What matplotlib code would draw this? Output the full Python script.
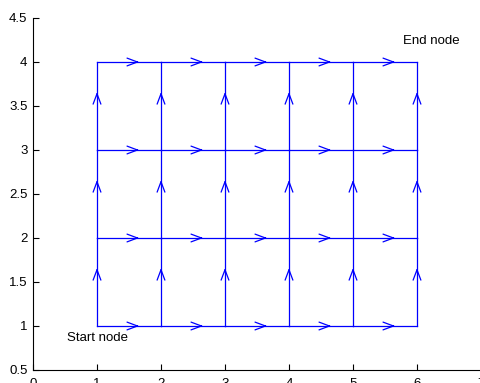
import matplotlib
matplotlib.use('Agg')
import matplotlib.pyplot as plt

# grid graph: nodes on integer positions, edges go right and up
node_x = [1, 2, 3, 4, 5, 6]
node_y = [1, 2, 3, 4]
x_ticks = [0, 1, 2, 3, 4, 5, 6, 7]
y_ticks = [0.5, 1, 1.5, 2, 2.5, 3, 3.5, 4, 4.5]
start_label = 'Start node'
end_label = 'End node'

plt.rcParams['font.family'] = ['Liberation Sans', 'DejaVu Sans']

fig = plt.figure(figsize=(4.81, 3.83), dpi=100)
ax = fig.add_axes([33/481, 13/383, 448/481, 352/383])

blue = '#0000ff'
frac = 0.66
head = dict(arrowstyle='->,head_length=0.75,head_width=0.28', color=blue,
            lw=0.9, mutation_scale=10, shrinkA=0, shrinkB=0)

def edge(x0, y0, x1, y1):
    ax.plot([x0, x1], [y0, y1], color=blue, lw=0.9)
    tx = x0 + frac*(x1-x0)
    ty = y0 + frac*(y1-y0)
    bx = x0 + (frac-0.05)*(x1-x0)
    by = y0 + (frac-0.05)*(y1-y0)
    ax.annotate('', xy=(tx, ty), xytext=(bx, by), arrowprops=head)

for y in node_y:
    for a, b in zip(node_x[:-1], node_x[1:]):
        edge(a, y, b, y)
for x in node_x:
    for a, b in zip(node_y[:-1], node_y[1:]):
        edge(x, a, x, b)

ax.text(0.53, 0.86, start_label, fontsize=9.5, va='center', ha='left')
ax.text(5.78, 4.24, end_label, fontsize=9.5, va='center', ha='left')

ax.set_xlim(0, 7)
ax.set_ylim(0.5, 4.5)
ax.set_xticks(x_ticks)
ax.set_yticks(y_ticks)
ax.set_xticklabels([str(v) for v in x_ticks])
ax.set_yticklabels(['%g' % v for v in y_ticks])
ax.tick_params(direction='in', length=4, width=0.8, labelsize=9.5, pad=4)
ax.tick_params(axis='x', pad=6)
ax.spines['top'].set_visible(False)
ax.spines['right'].set_visible(False)

fig.savefig('out.png', dpi=100)
